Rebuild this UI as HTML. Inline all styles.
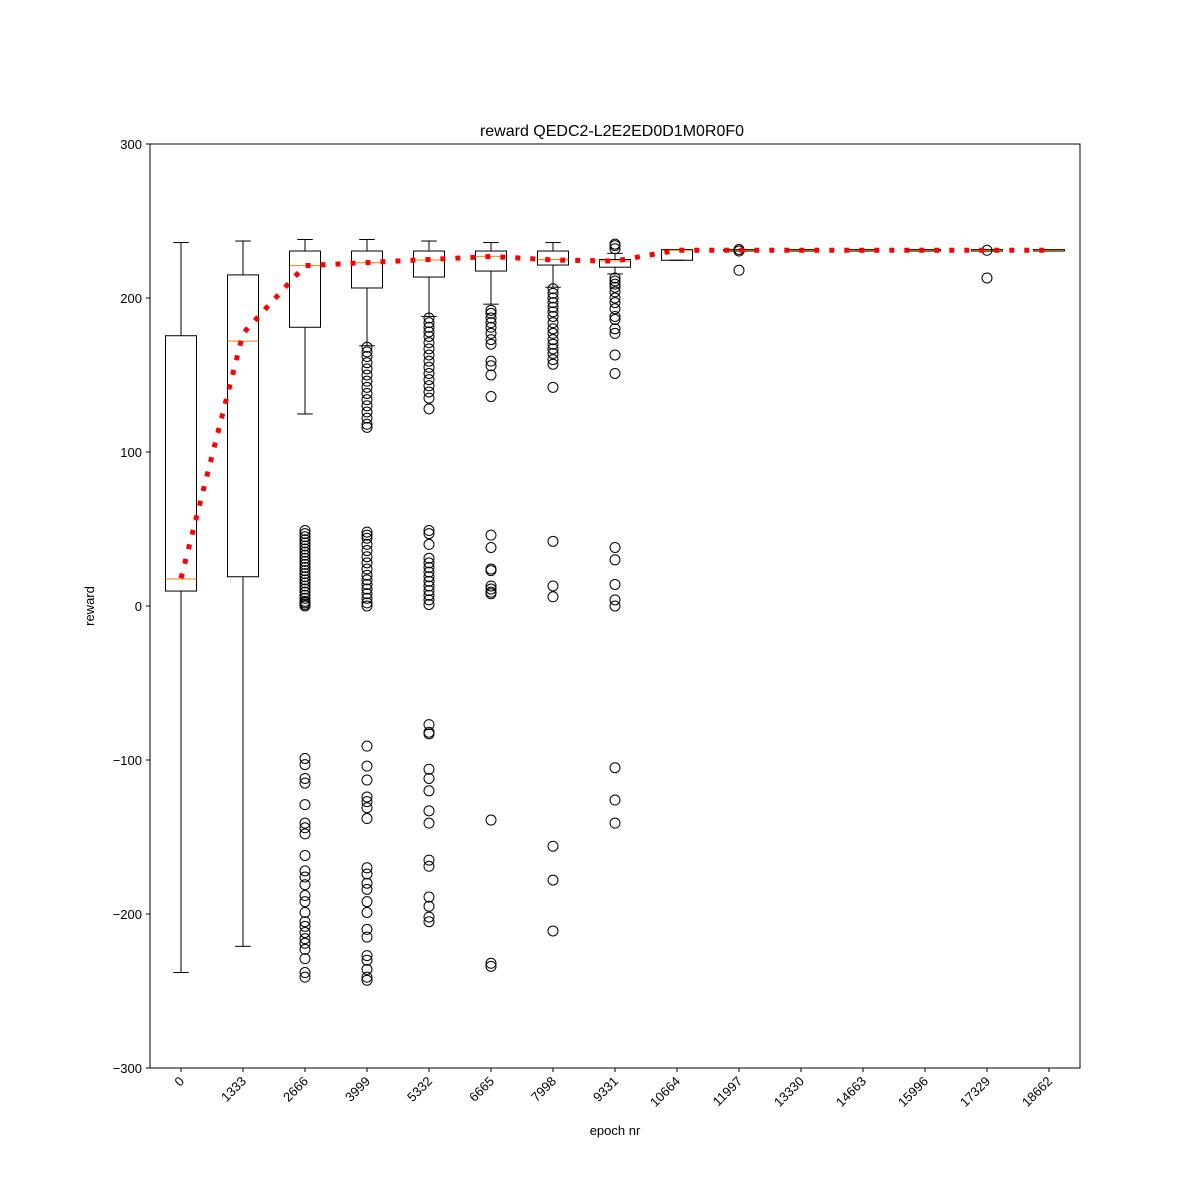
<!DOCTYPE html>
<html><head><meta charset="utf-8"><style>
body{margin:0;background:#fff}
svg{display:block;font-family:"Liberation Sans","DejaVu Sans",sans-serif}
</style></head><body>
<svg id="chart" width="1200" height="1200" viewBox="0 0 1200 1200" xmlns="http://www.w3.org/2000/svg">
<rect width="1200" height="1200" fill="#fff"/>
<g id="plot"></g>
<rect x="150" y="144" width="930" height="924" fill="none" stroke="#000" stroke-width="1"/>
<text x="612" y="136" text-anchor="middle" font-size="16">reward QEDC2-L2E2ED0D1M0R0F0</text>
<text x="615" y="1135" text-anchor="middle" font-size="13">epoch nr</text>
<text transform="translate(94,606) rotate(-90)" text-anchor="middle" font-size="13">reward</text>
</svg>
<script>
const categories=[0,1333,2666,3999,5332,6665,7998,9331,10664,11997,13330,14663,15996,17329,18662];
const whiskerHigh=[236,237,238,238,237,236,236,229,231.5,231.5,231.5,231.5,231.5,231.5,231.5];
const q3=[175.5,215,230.5,230.5,230.5,230.5,230.5,225,231.5,231.5,231.5,231.5,231.5,231.5,231.5];
const medians=[17.5,172,221,223,224.7,227,225,224,231,231,231,231,231,231,231];
const q1=[9.7,19,181,206.5,213.6,217.5,221.4,220,224.5,230.5,230.5,230.5,230.5,230.5,230.5];
const whiskerLow=[-238,-221,124.7,169,188,196,207,215.6,224.5,230.5,230.5,230.5,230.5,230.5,230.5];
const means=[18,177,221,223,225,227,224.7,224,231,231,231,231,231,231,231];
const outliers=[
[],
[],
[49,47,45,43,41,39,37,35,33,31,29,27,25,23,21,19,17,15,13,11,9,7,5,3,2,1,0,-99,-103,-112,-115,-129,-141,-144,-148,-162,-172,-176,-181,-188,-192,-199,-205,-208,-212,-216,-219,-223,-229,-238,-241],
[168,165,162,158,154,150,146,142,138,134,130,126,122,118,116,48,46,44,40,36,32,28,24,20,17,14,11,8,5,2,0,-91,-104,-113,-124,-127,-131,-138,-170,-174,-180,-184,-192,-199,-210,-215,-227,-230,-236,-241,-243],
[187,184,181,178,175,171,167,163,159,155,151,147,143,139,135,128,49,47,40,31,28,25,22,19,16,13,10,7,4,1,-77,-82,-83,-106,-112,-120,-133,-141,-165,-169,-189,-195,-202,-205],
[192,190,187,184,181,177,173,170,159,156,150,136,46,38,24,23,13,11,9,8,-139,-232,-234],
[206,203,200,197,194,191,188,184,180,177,173,170,167,164,160,157,142,42,13,6,-156,-178,-211],
[235,234,232,213,211,209,207,204,200,197,193,188,186,180,177,163,151,38,30,14,4,0,-105,-126,-141],
[],
[231.5,230.5,218],
[],[],[],
[231,213],
[]
];
const yTicks=[-300,-200,-100,0,100,200,300];
const yLabels=["\u2212300","\u2212200","\u2212100","0","100","200","300"];
const NS="http://www.w3.org/2000/svg";
const X0=150,X1=1080,Y0=144,Y1=1068;
const xs=i=>X0+(i+1-0.5)*(X1-X0)/categories.length;
const ys=v=>Y1-(v+300)*(Y1-Y0)/600;
const g=document.getElementById('plot');
function mk(t,a){const e=document.createElementNS(NS,t);for(const k in a)e.setAttribute(k,a[k]);g.appendChild(e);return e;}
yTicks.forEach((t,i)=>{
 const l=mk('line',{x1:X0-4,x2:X0,y1:ys(t),y2:ys(t),stroke:'#000'});
 
 
 const tx=mk('text',{x:X0-8,y:ys(t)+5,'text-anchor':'end','font-size':'13'});
 tx.textContent=yLabels[i];
 
 
});
categories.forEach((c,i)=>{
 const x=xs(i),hw=15.5;
 const tk=mk('line',{x1:x,x2:x,y1:Y1,y2:Y1+4,stroke:'#000'});
 
 
 const tx=mk('text',{transform:`translate(${x+4},${Y1+14}) rotate(-45)`,'text-anchor':'end','font-size':'13'});
 tx.textContent=String(c);
 
 
 const w1=mk('line',{x1:x,x2:x,y1:ys(whiskerHigh[i]),y2:ys(q3[i]),stroke:'#000'});
 
 
 const w2=mk('line',{x1:x,x2:x,y1:ys(q1[i]),y2:ys(whiskerLow[i]),stroke:'#000'});
 
 
 const c1=mk('line',{x1:x-hw/2,x2:x+hw/2,y1:ys(whiskerHigh[i]),y2:ys(whiskerHigh[i]),stroke:'#000'});
 
 
 const c2=mk('line',{x1:x-hw/2,x2:x+hw/2,y1:ys(whiskerLow[i]),y2:ys(whiskerLow[i]),stroke:'#000'});
 
 
 const b=mk('rect',{x:x-hw,y:ys(q3[i]),width:hw*2,height:Math.max(0.5,ys(q1[i])-ys(q3[i])),fill:'none',stroke:'#000'});
 
 
 const m=mk('line',{x1:x-hw,x2:x+hw,y1:ys(medians[i]),y2:ys(medians[i]),stroke:'#ff7f0e'});
 
 
 outliers[i].forEach(v=>{
  const o=mk('circle',{cx:x,cy:ys(v),r:5,fill:'none',stroke:'#000'});
  
  
 });
});
const pl=mk('polyline',{points:means.map((v,i)=>xs(i)+','+ys(v)).join(' '),fill:'none',stroke:'#f00','stroke-width':5,'stroke-dasharray':'5,10'});


</script>
</body></html>
